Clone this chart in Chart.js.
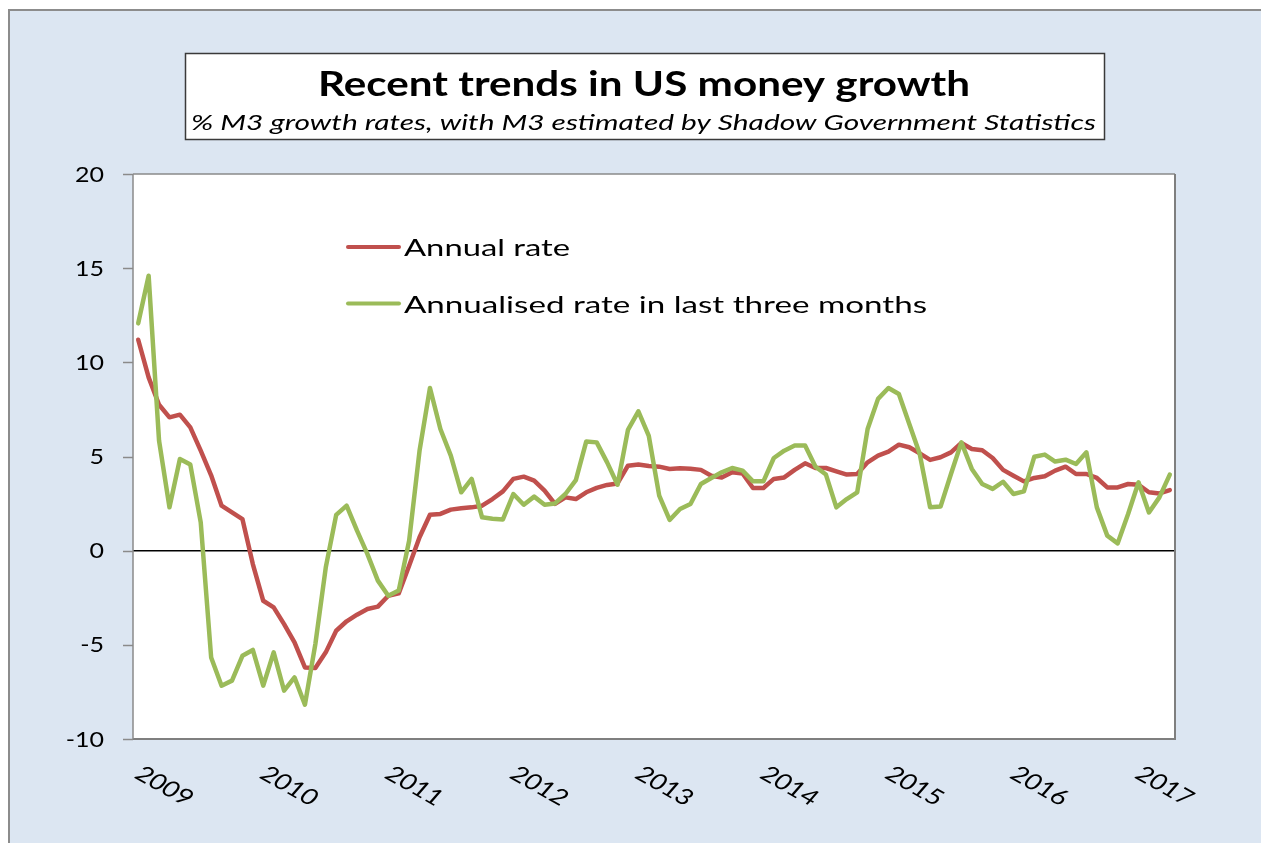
<!DOCTYPE html>
<html>
<head>
<meta charset="utf-8">
<title>Recent trends in US money growth</title>
<script src="https://cdn.jsdelivr.net/npm/chart.js@4.4.1/dist/chart.umd.min.js"></script>
<style>
  html, body { margin: 0; padding: 0; background: #fff; }
  canvas { display: block; }
</style>
</head>
<body>
<canvas id="moneyChart" width="1261" height="843"></canvas>
<script>
// Monthly data, Jan 2009 - Apr 2017 (% M3 growth, SGS estimate)
const yearLabels = ['2009', '2010', '2011', '2012', '2013', '2014', '2015', '2016', '2017'];

const annualRate = [
    11.2, 9.2, 7.75, 7.08, 7.22, 6.55, 5.31, 4.0, 2.39, 2.03, 1.68, -0.71,
    -2.66, -3.01, -3.9, -4.87, -6.2, -6.23, -5.4, -4.25, -3.75, -3.4, -3.1, -2.97,
    -2.39, -2.27, -0.8, 0.71, 1.91, 1.95, 2.18, 2.25, 2.3, 2.39, 2.74, 3.15,
    3.81, 3.93, 3.72, 3.19, 2.48, 2.83, 2.74, 3.1, 3.33, 3.49, 3.57, 4.51,
    4.57, 4.5, 4.46, 4.34, 4.37, 4.35, 4.29, 3.98, 3.89, 4.16, 4.1, 3.33,
    3.33, 3.81, 3.89, 4.29, 4.64, 4.39, 4.39, 4.21, 4.04, 4.07, 4.69, 5.05,
    5.26, 5.63, 5.49, 5.17, 4.82, 4.96, 5.22, 5.72, 5.4, 5.33, 4.92, 4.29,
    3.98, 3.68, 3.86, 3.95, 4.25, 4.46, 4.07, 4.07, 3.86, 3.36, 3.36, 3.54,
    3.5, 3.1, 3.04, 3.22
];

const threeMonthRate = [
    12.07, 14.6, 5.84, 2.3, 4.87, 4.57, 1.5, -5.67, -7.17, -6.9, -5.58, -5.27,
    -7.17, -5.4, -7.43, -6.73, -8.18, -4.96, -0.89, 1.9, 2.39, 1.06, -0.18, -1.59,
    -2.39, -2.12, 0.53, 5.31, 8.64, 6.46, 5.05, 3.1, 3.81, 1.77, 1.7, 1.66,
    3.01, 2.44, 2.87, 2.44, 2.51, 3.01, 3.75, 5.8, 5.75, 4.69, 3.5, 6.41,
    7.4, 6.1, 2.92, 1.63, 2.21, 2.48, 3.54, 3.86, 4.16, 4.39, 4.25, 3.68,
    3.68, 4.92, 5.31, 5.58, 5.58, 4.46, 4.04, 2.3, 2.74, 3.1, 6.46, 8.06,
    8.64, 8.32, 6.73, 5.14, 2.3, 2.34, 4.07, 5.75, 4.34, 3.54, 3.28, 3.66,
    3.01, 3.15, 4.99, 5.1, 4.73, 4.83, 4.6, 5.22, 2.3, 0.8, 0.39, 1.95,
    3.63, 2.03, 2.83, 4.04
];

const yTicks = [20, 15, 10, 5, 0, -5, -10];

const seriesNames = ['Annual rate', 'Annualised rate in last three months'];
const seriesColors = ['#C0504D', '#9BBB59'];

// one category per month, year name on January
const monthLabels = [];
yearLabels.forEach(y => {
    for (let m = 0; m < 12; m++) monthLabels.push(m === 0 ? y : y + '-' + (m + 1));
});
monthLabels.length = annualRate.length;

const FONT = 'Lato, "Open Sans", sans-serif';

// text in the picture is stretched sideways, so squeeze it to a given width
function drawText(ctx, text, x, y, font, width, align) {
    ctx.save();
    ctx.font = font;
    const w = ctx.measureText(text).width;
    ctx.translate(x, y);
    ctx.scale(width / w, 1);
    ctx.textAlign = align;
    ctx.textBaseline = 'alphabetic';
    ctx.fillStyle = '#000';
    ctx.fillText(text, 0, 0);
    ctx.restore();
}

const framePlugin = {
    id: 'frame',
    beforeDraw(chart) {
        const ctx = chart.ctx;
        const a = chart.chartArea;
        ctx.save();
        ctx.fillStyle = '#fff';
        ctx.fillRect(0, 0, chart.width, chart.height);
        // outer panel
        ctx.fillStyle = '#DCE6F2';
        ctx.fillRect(8, 9, chart.width - 8, chart.height - 9);
        ctx.strokeStyle = '#8C8C8C';
        ctx.lineWidth = 2;
        ctx.beginPath();
        ctx.moveTo(9, chart.height);
        ctx.lineTo(9, 10);
        ctx.lineTo(chart.width, 10);
        ctx.stroke();
        // title box
        ctx.fillStyle = '#fff';
        ctx.fillRect(185, 53, 920, 87);
        ctx.strokeStyle = '#3A3A3A';
        ctx.lineWidth = 1.5;
        ctx.strokeRect(185.5, 53.5, 919, 86);
        // plot area
        ctx.fillStyle = '#fff';
        ctx.fillRect(a.left, a.top, a.right - a.left, a.bottom - a.top);
        ctx.restore();
    },
    afterDraw(chart) {
        const ctx = chart.ctx;
        const a = chart.chartArea;
        const xs = chart.scales.x;
        const ys = chart.scales.y;
        ctx.save();
        // plot border
        ctx.strokeStyle = '#8A8A8A';
        ctx.lineWidth = 1.5;
        ctx.beginPath();
        ctx.moveTo(a.left, a.top);
        ctx.lineTo(a.right, a.top);
        ctx.stroke();
        ctx.strokeStyle = '#7F7F7F';
        ctx.lineWidth = 2;
        ctx.beginPath();
        ctx.moveTo(a.right, a.top);
        ctx.lineTo(a.right, a.bottom);
        ctx.lineTo(a.left, a.bottom);
        ctx.stroke();
        // y axis line and ticks
        ctx.strokeStyle = '#8A8A8A';
        ctx.lineWidth = 1.5;
        ctx.beginPath();
        ctx.moveTo(a.left, a.top);
        ctx.lineTo(a.left, a.bottom);
        yTicks.forEach(v => {
            const py = Math.round(ys.getPixelForValue(v)) + 0.5;
            ctx.moveTo(a.left - 10, py);
            ctx.lineTo(a.left, py);
        });
        ctx.stroke();

        // y tick labels
        ctx.font = '21px ' + FONT;
        const sx = 29 / ctx.measureText('20').width;
        yTicks.forEach(v => {
            const t = String(v);
            ctx.font = '21px ' + FONT;
            const w = ctx.measureText(t).width * sx;
            drawText(ctx, t, 104, ys.getPixelForValue(v) + 7.5, '21px ' + FONT, w, 'right');
        });

        // x year labels, rotated down to the right
        yearLabels.forEach((y, k) => {
            const px = xs.getPixelForValue(k * 12);
            ctx.save();
            ctx.translate(px + 26, 786);
            ctx.scale(1.25, 1);
            ctx.rotate(35 * Math.PI / 180);
            ctx.font = '22px ' + FONT;
            ctx.fillStyle = '#000';
            ctx.textAlign = 'center';
            ctx.textBaseline = 'middle';
            ctx.fillText(y, 0, 0);
            ctx.restore();
        });

        // titles
        drawText(ctx, 'Recent trends in US money growth', 644, 96, 'bold 35px ' + FONT, 652, 'center');
        drawText(ctx, '% M3 growth rates, with M3 estimated by Shadow Government Statistics',
            643.5, 130, 'italic 22px ' + FONT, 905, 'center');

        // legend inside the plot
        const legendRows = [
            { y: 247, base: 256, width: 166 },
            { y: 303.5, base: 312.5, width: 523 }
        ];
        legendRows.forEach((r, i) => {
            ctx.strokeStyle = seriesColors[i];
            ctx.lineWidth = 4;
            ctx.lineCap = 'round';
            ctx.beginPath();
            ctx.moveTo(348, r.y);
            ctx.lineTo(399, r.y);
            ctx.stroke();
            drawText(ctx, seriesNames[i], 404, r.base, '23px ' + FONT, r.width, 'left');
        });
        ctx.restore();
    }
};

function drawChart() {
    const ctx = document.getElementById('moneyChart').getContext('2d');
    new Chart(ctx, {
        type: 'line',
        data: {
            labels: monthLabels,
            datasets: [{
                label: seriesNames[0],
                data: annualRate,
                borderColor: seriesColors[0],
                borderWidth: 4.5,
                pointRadius: 0,
                tension: 0,
                borderJoinStyle: 'round',
                borderCapStyle: 'round',
                fill: false,
                order: 1
            }, {
                label: seriesNames[1],
                data: threeMonthRate,
                borderColor: seriesColors[1],
                borderWidth: 4.5,
                pointRadius: 0,
                tension: 0,
                borderJoinStyle: 'round',
                borderCapStyle: 'round',
                fill: false,
                order: 0
            }]
        },
        options: {
            responsive: false,
            animation: false,
            devicePixelRatio: 1,
            layout: {
                padding: { left: 133, top: 174, right: 86, bottom: 104 }
            },
            plugins: {
                legend: { display: false },
                tooltip: { enabled: false },
                title: { display: false }
            },
            scales: {
                x: {
                    type: 'category',
                    offset: true,
                    ticks: { display: false },
                    grid: { display: false, drawTicks: false },
                    border: { display: false }
                },
                y: {
                    min: -10,
                    max: 20,
                    ticks: { display: false, stepSize: 5 },
                    grid: {
                        drawTicks: false,
                        color: c => (c.tick && c.tick.value === 0 ? '#000' : 'rgba(0,0,0,0)'),
                        lineWidth: 1.5
                    },
                    border: { display: false }
                }
            }
        },
        plugins: [framePlugin]
    });
}

if (document.fonts && document.fonts.load) {
    Promise.all([
        document.fonts.load('21px Lato'),
        document.fonts.load('bold 35px Lato'),
        document.fonts.load('italic 22px Lato')
    ]).then(drawChart, drawChart);
} else {
    drawChart();
}
</script>
</body>
</html>
